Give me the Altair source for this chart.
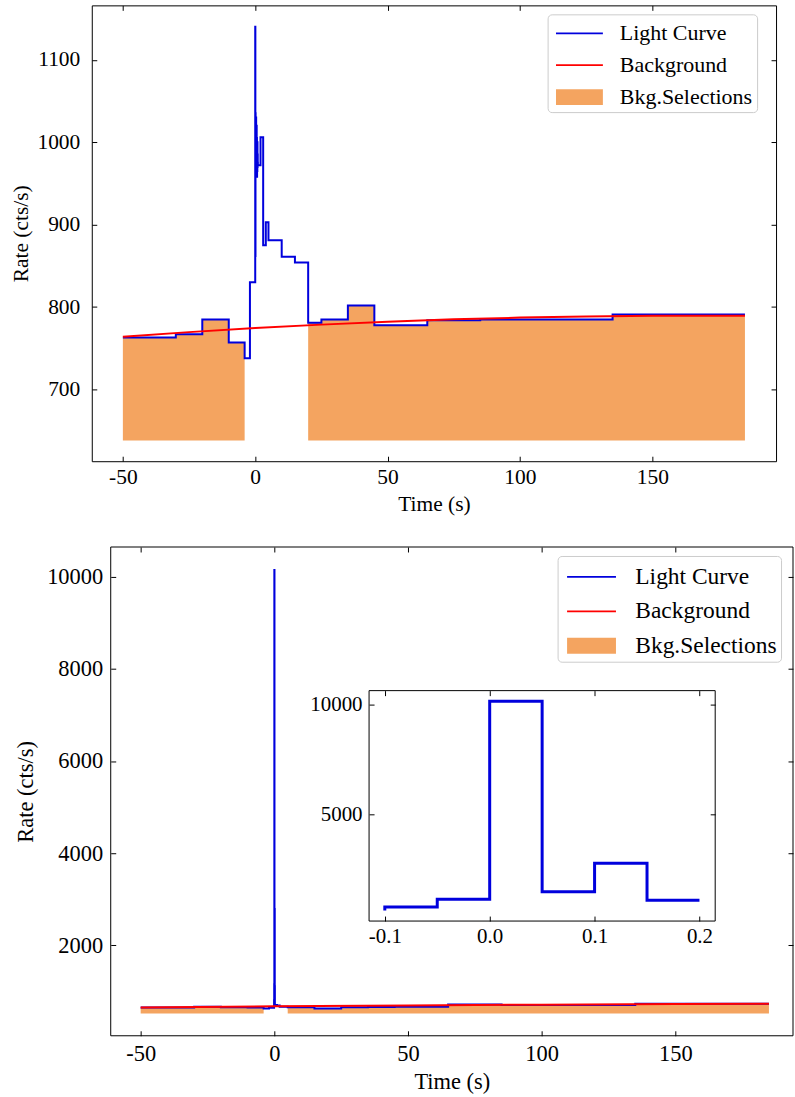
import altair as alt
import pandas as pd

FONT = "Liberation Serif"
BLUE = "#0000dd"
RED = "#ff0000"
ORANGE = "#f4a460"
MINUS_FIX = "replace(datum.label, '\u2212', '-')"

SERIES = ["Light Curve", "Background", "Bkg.Selections"]
SERIES_COLORS = [BLUE, RED, ORANGE]

# ---------------- top panel data ----------------
TOP_T = [-50, -30, -20, -10, -4, -2,
         0, 0.05, 0.10, 0.15, 0.20, 0.25, 0.30, 0.35, 0.40, 0.45,
         0.50, 0.55, 0.60, 0.65, 0.70, 0.75, 0.80, 0.85, 0.90, 0.95,
         1, 2, 3, 4, 5, 10, 15, 20, 25, 35, 45, 65, 85, 135]
TOP_RATE = [763, 767, 785, 757, 738, 830,
            1140, 862, 1035, 960, 1010, 958, 1030, 985, 1000, 962,
            1020, 975, 1005, 958, 990, 965, 1000, 970, 985, 975,
            972, 1006, 875, 903, 881, 861, 854, 781, 785, 802, 778, 784, 785, 791]
TOP_T_END = 185
TOP_BG_T = [-50, -25, 0, 25, 50, 75, 100, 125, 150, 185]
TOP_BG = [764.0, 769.6, 774.5, 778.7, 782.2, 785.1, 787.2, 788.7, 789.5, 789.4]
TOP_SEL = [(-50, -4), (20, 185)]
TOP_SEL_BASE = 638
TOP_X_DOMAIN = [-61.75, 196.75]
TOP_Y_DOMAIN = [613, 1166]
TOP_X_TICKS = [-50, 0, 50, 100, 150]
TOP_Y_TICKS = [700, 800, 900, 1000, 1100]

# ---------------- bottom panel data ----------------
BOT_T = [-50, -30, -20, -10, -4, -2,
         -0.1, -0.05, 0, 0.05, 0.1, 0.15, 0.2,
         1, 2, 5, 15, 25, 35, 45, 65, 85, 135, 185]
BOT_RATE = [645, 645, 660, 650, 645, 620,
            640, 800, 1150, 10150, 1500, 2786, 1105,
            700, 690, 660, 650, 625, 650, 655, 660, 712, 700, 726]
BOT_BG_T = [-50, 0, 50, 100, 150, 185]
BOT_BG = [645, 670, 690, 706, 718, 724]
BOT_SEL = [(-50, -4), (5, 185)]
BOT_SEL_BASE = 513
BOT_X_DOMAIN = [-61.2, 194.0]
BOT_Y_DOMAIN = [30, 10650]
BOT_X_TICKS = [-50, 0, 50, 100, 150]
BOT_Y_TICKS = [2000, 4000, 6000, 8000, 10000]

INSET_RANGE_T = (-0.1, 0.2)
INSET_X_DOMAIN = [-0.115, 0.215]
INSET_Y_DOMAIN = [164, 10636]
INSET_X_TICKS = [-0.1, 0.0, 0.1, 0.2]
INSET_Y_TICKS = [5000, 10000]

TOP_W, TOP_H = 686, 457
BOT_W, BOT_H = 704, 490      # bottom view; its frame starts BOT_SHIFT px in
BOT_SHIFT = 19
TICK = 5


# ---------------- helpers ----------------
def top_lc_df():
    ts = TOP_T + [TOP_T_END]
    rs = TOP_RATE + [TOP_RATE[-1]]
    return pd.DataFrame({"t": ts, "rate": rs})


def top_fill_df():
    rows = []
    for k, (a, b) in enumerate(TOP_SEL):
        last = None
        for t, r in zip(TOP_T, TOP_RATE):
            if a <= t < b:
                rows.append({"t": t, "rate": r, "base": TOP_SEL_BASE, "seg": k})
            if t < b:
                last = r
        rows.append({"t": b, "rate": last, "base": TOP_SEL_BASE, "seg": k})
    return pd.DataFrame(rows)


def bot_fill_df():
    rows = []
    for k, (a, b) in enumerate(BOT_SEL):
        pts = [(t, r) for t, r in zip(BOT_T, BOT_RATE) if a <= t <= b]
        if pts[0][0] > a:
            pts.insert(0, (a, pts[0][1]))
        for t, r in pts:
            rows.append({"t": t, "rate": r, "base": BOT_SEL_BASE, "seg": k})
    return pd.DataFrame(rows)


def grid_axis(title, values, span, fs, lpad, tpad, fmt):
    # inward ticks on both sides drawn as dashed grid ends
    return alt.Axis(
        title=title, values=values, format=fmt, labelExpr=MINUS_FIX,
        ticks=False, tickSize=0, domain=False,
        grid=True, gridColor="black", gridWidth=1, gridOpacity=1,
        gridDash=[TICK, span - 2 * TICK, TICK, 4000],
        labelFont=FONT, labelFontSize=fs, labelColor="black", labelPadding=lpad,
        labelFlush=False, labelOverlap=False,
        titleFont=FONT, titleFontSize=fs, titleFontWeight="normal",
        titleColor="black", titlePadding=tpad,
    )


def tick_axis(orient, offset, values, fmt, labels, fs, lpad=5, title=None, tpad=4):
    # inward ticks drawn as outward ticks of an axis shifted inside by TICK
    kw = dict(title=title) if title else dict(title=None)
    return alt.Axis(
        orient=orient, offset=offset, values=values, format=fmt, labelExpr=MINUS_FIX,
        labels=labels, ticks=True, tickSize=TICK, tickColor="black", tickWidth=1,
        domain=False, grid=False,
        labelFont=FONT, labelFontSize=fs, labelColor="black", labelPadding=lpad,
        labelFlush=False, labelOverlap=False,
        titleFont=FONT, titleFontSize=fs, titleFontWeight="normal",
        titleColor="black", titlePadding=tpad, **kw,
    )


def legend_layer(lx, ly, fs, r, xmin, xmax, lh, ph, label_offset, row_pad):
    line_path = f"M{xmin},{-lh}H{xmax}V{lh}H{xmin}Z"
    patch_path = f"M{xmin},{-ph}H{xmax}V{ph}H{xmin}Z"
    shapes = [line_path, line_path, patch_path]
    leg = alt.Legend(
        title=None, orient="none", legendX=lx, legendY=ly,
        labelFont=FONT, labelFontSize=fs, labelColor="black",
        symbolSize=(2 * r) ** 2, symbolStrokeWidth=0, symbolOpacity=1,
        labelOffset=label_offset, rowPadding=row_pad, padding=4,
        fillColor="white", strokeColor="#cccccc", cornerRadius=4,
    )
    return (
        alt.Chart(pd.DataFrame({"series": SERIES}))
        .transform_filter("false")
        .mark_point(filled=True, opacity=1)
        .encode(
            color=alt.Color("series:N", scale=alt.Scale(domain=SERIES, range=SERIES_COLORS), legend=leg),
            shape=alt.Shape("series:N", scale=alt.Scale(domain=SERIES, range=shapes), legend=leg),
        )
    )


# ---------------- top chart ----------------
tx = alt.X("t:Q", scale=alt.Scale(domain=TOP_X_DOMAIN, nice=False, zero=False),
           axis=grid_axis("Time (s)", TOP_X_TICKS, TOP_H, 21.5, 5, 6, "d"))
ty = alt.Y("rate:Q", scale=alt.Scale(domain=TOP_Y_DOMAIN, nice=False, zero=False),
           axis=grid_axis("Rate (cts/s)", TOP_Y_TICKS, TOP_W, 21.5, 12, 4, "d"))

top_fill = alt.Chart(top_fill_df()).mark_area(interpolate="step-after", color=ORANGE, opacity=1).encode(
    x=tx, y=ty, y2="base:Q", detail="seg:N")
top_lc = alt.Chart(top_lc_df()).mark_line(interpolate="step-after", color=BLUE, strokeWidth=2).encode(x=tx, y=ty)
top_bg = alt.Chart(pd.DataFrame({"t": TOP_BG_T, "rate": TOP_BG})).mark_line(color=RED, strokeWidth=2).encode(x=tx, y=ty)
top_leg = legend_layer(457, 9, 22, 15, -0.707, 2.427, 0.06, 0.52, 38.4, 6)

top = alt.layer(top_fill, top_lc, top_bg, top_leg).properties(width=TOP_W, height=TOP_H)

# ---------------- bottom chart ----------------
BOT_XR = [BOT_SHIFT, BOT_W - 1]
bx_scale = alt.Scale(domain=BOT_X_DOMAIN, range=BOT_XR, nice=False, zero=False)
by_scale = alt.Scale(domain=BOT_Y_DOMAIN, nice=False, zero=False)
bx_axis = grid_axis("Time (s)", BOT_X_TICKS, BOT_H, 22.5, 7, 5, "d")
bx = alt.X("t:Q", scale=bx_scale, axis=bx_axis)
by = alt.Y("rate:Q", scale=by_scale,
           axis=tick_axis("left", -(BOT_SHIFT + TICK), BOT_Y_TICKS, "d", True, 22.5, 8,
                          title="Rate (cts/s)", tpad=9))

bot_df = pd.DataFrame({"t": BOT_T, "rate": BOT_RATE})
bot_fill = alt.Chart(bot_fill_df()).mark_area(interpolate="step-before", color=ORANGE, opacity=1).encode(
    x=bx, y=by, y2="base:Q", detail="seg:N")
bot_lc = alt.Chart(bot_df).mark_line(interpolate="step-before", color=BLUE, strokeWidth=2).encode(x=bx, y=by)
bot_bg = alt.Chart(pd.DataFrame({"t": BOT_BG_T, "rate": BOT_BG})).mark_line(color=RED, strokeWidth=2).encode(x=bx, y=by)
bot_leg = legend_layer(448 + BOT_SHIFT, 9, 23.5, 16.9, -0.68, 2.22, 0.055, 0.47, 39.9, 5.5)

bot_core = alt.layer(bot_fill, bot_lc, bot_bg, bot_leg)

# frame of the bottom panel, from its axis limits, carrying the right-hand ticks
bframe_df = pd.DataFrame({"x0": [BOT_X_DOMAIN[0]], "x1": [BOT_X_DOMAIN[1]],
                          "y0": [BOT_Y_DOMAIN[0]], "y1": [BOT_Y_DOMAIN[1]]})
bot_frame = alt.Chart(bframe_df).mark_rect(fillOpacity=0, stroke="black", strokeWidth=1).encode(
    x=alt.X("x0:Q", scale=bx_scale, axis=bx_axis),
    x2="x1:Q",
    y=alt.Y("y0:Q", scale=by_scale,
            axis=tick_axis("right", (BOT_XR[1] - TICK) - BOT_W, BOT_Y_TICKS, "d", False, 22.5)),
    y2="y1:Q",
)
bottom_main = alt.layer(bot_core, bot_frame).resolve_axis(y="independent")

# inset
INSET_XR = [259 + BOT_SHIFT, 606 + BOT_SHIFT]
INSET_YR = [375, 144]
ix_scale = alt.Scale(domain=INSET_X_DOMAIN, range=INSET_XR, nice=False, zero=False)
iy_scale = alt.Scale(domain=INSET_Y_DOMAIN, range=INSET_YR, nice=False, zero=False)

inset_df = bot_df[(bot_df.t >= INSET_RANGE_T[0]) & (bot_df.t <= INSET_RANGE_T[1])]
inset_line = alt.Chart(inset_df).mark_line(interpolate="step-before", color=BLUE, strokeWidth=3).encode(
    x=alt.X("t:Q", scale=ix_scale,
            axis=tick_axis("bottom", INSET_YR[0] - TICK - BOT_H, INSET_X_TICKS, ".1f", True, 21, 4)),
    y=alt.Y("rate:Q", scale=iy_scale,
            axis=tick_axis("left", -(INSET_XR[0] + TICK), INSET_Y_TICKS, "d", True, 21, 7)),
)
frame_df = pd.DataFrame({"x0": [INSET_X_DOMAIN[0]], "x1": [INSET_X_DOMAIN[1]],
                         "y0": [INSET_Y_DOMAIN[0]], "y1": [INSET_Y_DOMAIN[1]]})
inset_frame = alt.Chart(frame_df).mark_rect(fillOpacity=0, stroke="black", strokeWidth=1).encode(
    x=alt.X("x0:Q", scale=ix_scale,
            axis=tick_axis("top", -(INSET_YR[1] + TICK), INSET_X_TICKS, ".1f", False, 21)),
    x2="x1:Q",
    y=alt.Y("y0:Q", scale=iy_scale,
            axis=tick_axis("right", INSET_XR[1] - TICK - BOT_W, INSET_Y_TICKS, "d", False, 21)),
    y2="y1:Q",
)
inset = alt.layer(inset_line, inset_frame).resolve_axis(x="independent", y="independent")

bottom = (
    alt.layer(bottom_main, inset)
    .resolve_scale(x="independent", y="independent")
    .properties(width=BOT_W, height=BOT_H, view=alt.ViewBackground(stroke="transparent"))
)

chart = (
    alt.vconcat(top, bottom, spacing=30)
    .resolve_scale(color="independent", shape="independent")
    .resolve_legend(color="independent", shape="independent")
    .properties(padding={"left": 10, "top": 3, "right": 0, "bottom": 0})
    .configure_view(stroke="black", strokeWidth=1)
)

chart.save("out.html", embed_options={"renderer": "svg", "actions": False})
